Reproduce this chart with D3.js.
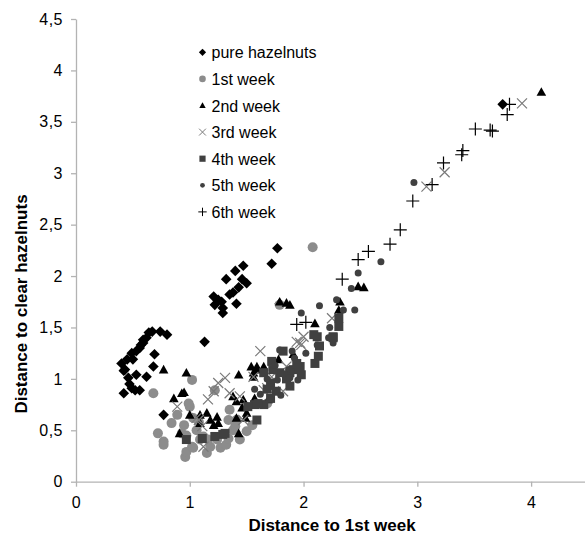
<html>
<head>
<meta charset="utf-8">
<title>Distance to clear hazelnuts</title>
<style>
body { margin: 0; background: #fff; }
text { font-family: "Liberation Sans", Arial, sans-serif; }
</style>
</head>
<body>
<script src="https://cdn.jsdelivr.net/npm/d3@7"></script>
<script>
 // series names, as in the legend
 var categories = ["pure hazelnuts", "1st week", "2nd week", "3rd week", "4th week", "5th week", "6th week"];

 // [distance to 1st week, distance to clear hazelnuts]
 var pureHazelnuts = [[0.42,0.86],[0.40,1.15],[0.43,1.09],[0.46,1.01],[0.49,0.91],[0.52,0.89],[0.56,0.89],[0.53,1.04],[0.50,1.19],[0.49,1.25],[0.53,1.27],[0.56,1.30],[0.59,1.35],[0.62,1.40],[0.64,1.45],[0.59,1.38],[0.67,1.46],[0.74,1.46],[0.80,1.43],[0.69,1.24],[0.68,1.12],[0.62,1.02],[0.77,0.65],[0.42,1.08],[0.45,1.19],[0.47,0.95],[0.57,1.33],
   [1.13,1.36],[1.77,2.27],[1.72,2.12],[1.47,2.10],[1.40,2.05],[1.32,1.97],[1.46,1.97],[1.50,1.93],[1.43,1.89],[1.38,1.84],[1.35,1.82],[1.21,1.80],[1.25,1.77],[1.28,1.75],[1.22,1.72],[1.29,1.69],[1.29,1.64],[1.41,1.73],[1.79,1.73],[3.75,3.67]];
 var week1 = [[0.68,0.86],[0.72,0.47],[0.77,0.39],[0.77,0.36],[0.84,0.57],[0.93,0.47],[0.96,0.24],[0.97,0.29],[1.02,0.34],[1.00,0.73],[0.99,0.76],[1.02,0.99],[1.03,0.62],[1.06,0.50],[1.09,0.41],[1.15,0.28],[1.18,0.34],[1.22,0.89],[1.27,0.33],[1.32,0.36],[1.35,0.70],[1.38,0.50],[1.41,0.60],[1.44,0.41],[1.50,0.49],[0.89,0.65],[1.12,0.44],[1.24,0.41],[1.79,1.72],[2.08,2.28],[1.03,0.33],[1.16,0.41],[1.34,0.42],[1.40,0.54],[1.34,0.60],[1.68,0.76],[0.95,0.55],[1.08,0.58],[1.55,0.55],[0.97,0.45]];
 var week2 = [[0.77,1.09],[0.97,1.06],[0.93,0.86],[0.86,0.81],[1.00,0.65],[0.91,0.47],[1.09,0.65],[1.15,0.67],[1.18,0.60],[1.24,0.63],[1.25,0.57],[1.38,0.83],[1.41,0.78],[1.43,1.04],[1.49,0.62],[1.50,0.67],[1.43,0.47],[1.56,1.02],[1.59,1.12],[1.65,1.12],[1.78,1.19],[1.79,1.75],[1.85,1.74],[1.91,1.24],[1.69,0.80],[1.09,0.57],[1.21,0.55],[1.88,1.72],[2.10,1.54],[2.32,1.75],[2.31,1.67],[2.48,1.90],[2.53,1.89],[4.09,3.79],[1.54,1.12],[1.56,1.06],[1.59,1.09],[1.47,0.80],[1.57,0.81],[1.46,0.72],[1.41,0.62],[0.95,0.87]];
 var week3 = [[0.89,0.73],[1.08,0.60],[1.12,0.34],[1.16,0.80],[1.21,0.88],[1.25,0.96],[1.31,1.01],[1.35,0.86],[1.44,0.83],[1.62,1.27],[1.56,1.02],[1.65,0.89],[1.72,1.02],[1.82,0.88],[1.85,1.12],[1.94,1.36],[1.11,0.54],[1.06,0.62],[1.47,0.60],[1.68,0.91],[1.97,1.35],[2.00,1.41],[1.98,1.33],[2.25,1.59],[3.08,2.87],[3.24,3.01],[3.92,3.68]];
 var week4 = [[2.12,1.41],[2.09,1.43],[2.14,1.32],[2.13,1.22],[2.10,1.15],[2.26,1.41],[2.31,1.59],[2.31,1.51],[1.97,1.12],[1.98,1.04],[1.91,1.09],[1.82,1.27],[1.72,1.17],[1.94,1.15],[1.79,1.06],[1.65,1.06],[1.71,0.96],[1.76,0.88],[1.71,0.81],[1.57,0.75],[1.51,0.73],[1.59,0.60],[1.29,0.46],[1.22,0.44],[1.11,0.42],[1.88,0.93],[1.88,1.06],[0.97,0.41],[1.31,0.47],[1.65,0.75],[1.73,1.09],[2.26,1.40],[1.60,0.76],[1.85,1.00],[1.68,0.90]];
 var week5 = [[2.68,2.14],[2.48,2.03],[2.42,1.88],[2.29,1.77],[2.14,1.71],[1.98,1.64],[2.45,1.67],[2.35,1.67],[2.23,1.50],[2.22,1.40],[2.26,1.35],[2.12,1.33],[1.90,1.27],[2.97,2.91],[1.88,1.01],[1.95,0.99],[1.87,1.09],[1.79,1.28],[1.62,0.85],[1.70,0.92],[1.77,0.99],[1.83,1.05],[1.75,1.13],[1.68,1.00],[1.92,1.20],[2.02,1.25],[1.80,0.84],[1.57,0.90]];
 var week6 = [[1.94,1.53],[2.02,1.55],[2.34,1.97],[2.48,2.16],[2.57,2.24],[2.76,2.31],[2.85,2.45],[2.96,2.73],[3.13,2.89],[3.23,3.10],[3.39,3.18],[3.40,3.22],[3.51,3.43],[3.64,3.42],[3.66,3.41],[3.79,3.57],[3.81,3.67]];

 var xTickValues = [0, 1, 2, 3, 4];
 var xTickLabels = ["0", "1", "2", "3", "4"];
 var yTickValues = [0, 0.5, 1, 1.5, 2, 2.5, 3, 3.5, 4, 4.5];
 var yTickLabels = ["0", "0,5", "1", "1,5", "2", "2,5", "3", "3,5", "4", "4,5"];

 var seriesData = [pureHazelnuts, week1, week2, week3, week4, week5, week6];

 // marker look per series: shape, plot size, legend size, fill, stroke
 var markers = [
   {shape: "diamond", size: 5.3, lsize: 3.6, fill: "#000", stroke: "none"},
   {shape: "circle", size: 5.0, lsize: 3.3, fill: "#8c8c8c", stroke: "none"},
   {shape: "triangle", size: 4.8, lsize: 3.2, fill: "#000", stroke: "none"},
   {shape: "times", size: 5.0, lsize: 3.4, fill: "none", stroke: "#7a7a7a"},
   {shape: "square", size: 4.5, lsize: 3.1, fill: "#404040", stroke: "none"},
   {shape: "circle", size: 3.5, lsize: 2.4, fill: "#404040", stroke: "none"},
   {shape: "plus", size: 6.5, lsize: 4.2, fill: "none", stroke: "#000"}
 ];

 function markerPath(shape, r) {
   var p = d3.path();
   if (shape == "diamond") {
     p.moveTo(0, -r); p.lineTo(r, 0); p.lineTo(0, r); p.lineTo(-r, 0); p.closePath();
   } else if (shape == "circle") {
     p.arc(0, 0, r, 0, 2 * Math.PI);
   } else if (shape == "triangle") {
     p.moveTo(0, -r); p.lineTo(r, r * 0.8); p.lineTo(-r, r * 0.8); p.closePath();
   } else if (shape == "square") {
     p.rect(-r, -r, 2 * r, 2 * r);
   } else if (shape == "times") {
     p.moveTo(-r, -r); p.lineTo(r, r); p.moveTo(r, -r); p.lineTo(-r, r);
   } else if (shape == "plus") {
     p.moveTo(-r, 0); p.lineTo(r, 0); p.moveTo(0, -r); p.lineTo(0, r);
   }
   return p.toString();
 }

 var width = 585, height = 535;

 var svg = d3.select("body").append("svg")
   .attr("width", width)
   .attr("height", height)
   .style("display", "block");

 var x = d3.scaleLinear().domain([0, 4.5]).range([76, 588]);
 var y = d3.scaleLinear().domain([0, 4.5]).range([481.7, 19]);

 var axisColor = "#b3b3b3";

 var xAxis = svg.append("g")
   .attr("transform", "translate(0," + y(0) + ")")
   .call(d3.axisBottom(x).tickValues(xTickValues)
     .tickFormat(function(d, i) { return xTickLabels[i]; })
     .tickSize(5).tickSizeOuter(0).tickPadding(10));

 var yAxis = svg.append("g")
   .attr("transform", "translate(" + x(0) + ",0)")
   .call(d3.axisLeft(y).tickValues(yTickValues)
     .tickFormat(function(d, i) { return yTickLabels[i]; })
     .tickSize(5).tickSizeOuter(0).tickPadding(8));

 [xAxis, yAxis].forEach(function(g) {
   g.selectAll("path, line").attr("stroke", axisColor).attr("stroke-width", 1.3);
   g.selectAll("text")
     .attr("fill", "#000")
     .style("font-family", "'Liberation Sans', Arial, sans-serif")
     .style("font-size", "16px")
     .style("letter-spacing", "0.5px");
 });

 // axis titles
 svg.append("text")
   .attr("x", 332)
   .attr("y", 531)
   .attr("text-anchor", "middle")
   .style("font-size", "17px")
   .style("font-weight", "bold")
   .text("Distance to 1st week");

 svg.append("text")
   .attr("transform", "translate(27,304) rotate(-90)")
   .attr("text-anchor", "middle")
   .style("font-size", "17px")
   .style("font-weight", "bold")
   .text("Distance to clear hazelnuts");

 // points, first series at the bottom
 var plot = svg.append("g");
 seriesData.forEach(function(pts, i) {
   var m = markers[i];
   plot.append("g")
     .selectAll("path")
     .data(pts)
     .enter().append("path")
     .attr("transform", function(d) { return "translate(" + x(d[0]) + "," + y(d[1]) + ")"; })
     .attr("d", markerPath(m.shape, m.size))
     .attr("fill", m.fill)
     .attr("stroke", m.stroke)
     .attr("stroke-width", 1.2);
 });

 // legend
 var legend = svg.append("g").attr("transform", "translate(202.5,52.3)");
 var rows = legend.selectAll("g")
   .data(categories)
   .enter().append("g")
   .attr("transform", function(d, i) { return "translate(0," + (i * 26.6) + ")"; });

 rows.append("path")
   .attr("d", function(d, i) { return markerPath(markers[i].shape, markers[i].lsize); })
   .attr("fill", function(d, i) { return markers[i].fill; })
   .attr("stroke", function(d, i) { return markers[i].stroke; })
   .attr("stroke-width", 1);

 rows.append("text")
   .attr("x", 9)
   .attr("y", 6)
   .style("font-size", "16px")
   .text(function(d) { return d; });
</script>
</body>
</html>
